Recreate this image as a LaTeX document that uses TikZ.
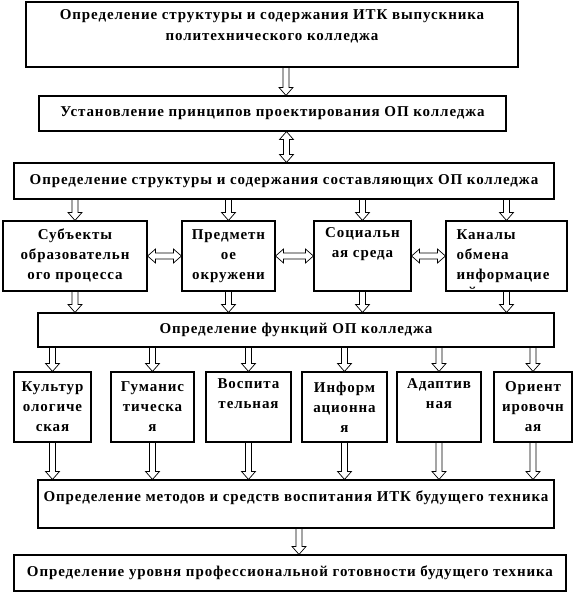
\documentclass[tikz,border=0pt]{standalone}
\usepackage{fontspec}
\setmainfont{Liberation Serif}[LetterSpace=6]
\usetikzlibrary{calc, positioning}

\begin{document}
\begin{tikzpicture}[
    x=1pt, y=-1pt,
    box/.style={
        draw, line width=1.1pt, inner sep=0pt, align=center,
        font=\fontsize{15}{20}\selectfont\bfseries
    },
    cell/.style={box, minimum width=#1, minimum height=70pt},
    arr/.style={draw, line width=.7pt, to path={
        let \p1=(\tikztostart), \p2=(\tikztotarget),
            \p3=($(\p2)!8pt!(\p1)$) in
        ($(\p1)!3pt!90:(\p2)$) -- ($(\p3)!3pt!90:(\p2)$)
        -- ($(\p3)!7pt!90:(\p2)$) -- (\p2)
        -- ($(\p3)!7pt!-90:(\p2)$) -- ($(\p3)!3pt!-90:(\p2)$)
        -- ($(\p1)!3pt!-90:(\p2)$) -- cycle}},
    darr/.style={draw, line width=.7pt, to path={
        let \p1=(\tikztostart), \p2=(\tikztotarget),
            \p3=($(\p2)!8pt!(\p1)$), \p4=($(\p1)!8pt!(\p2)$) in
        (\p1) -- ($(\p4)!7pt!90:(\p2)$) -- ($(\p4)!3pt!90:(\p2)$)
        -- ($(\p3)!3pt!90:(\p2)$) -- ($(\p3)!7pt!90:(\p2)$)
        -- (\p2)
        -- ($(\p3)!7pt!-90:(\p2)$) -- ($(\p3)!3pt!-90:(\p2)$)
        -- ($(\p4)!3pt!-90:(\p2)$) -- ($(\p4)!7pt!-90:(\p2)$) -- cycle}},
]
\useasboundingbox (0,0) rectangle (582,594);

% top of the scheme
\node[box, minimum width=492pt, minimum height=65pt] (top) at (272,34.5)
    {Определение структуры и содержания ИТК выпускника\\[1pt]политехнического колледжа\\[-8pt]\strut};
\node[box, minimum width=467pt, minimum height=35pt] (princ) at (272.5,113.5)
    {Установление принципов проектирования ОП колледжа};
\node[box, minimum width=540pt, minimum height=36pt] (comp) at (284,181)
    {Определение структуры и содержания составляющих ОП колледжа};

% components of the educational space
\node[cell=144pt] (subj) at (75,256) {Субъекты\\образовательн\\ого процесса};
\node[cell=93pt] (envir) at (228.5,256) {Предметн\\ое\\окружени};
\node[cell=97pt] (social) at (362.5,256) {Социальн\\ая среда\\\strut};
\node[cell=121pt, text width=100pt, align=left,
      path picture={\node[anchor=base west, inner sep=0pt,
          font=\fontsize{15}{20}\selectfont\bfseries]
          at ([shift={(11pt,-6pt)}]path picture bounding box.south west) {й};}]
    (chan) at (506.5,256) {Каналы\\обмена\\информацие};

\node[box, minimum width=516pt, minimum height=34pt] (func) at (296,330)
    {Определение функций ОП колледжа};

% functions
\node[cell=77pt] (cult) at (52.5,407) {Культур\\ологиче\\ская};
\node[cell=83pt] (hum) at (152.5,407) {Гуманис\\тическа\\я};
\node[cell=85pt] (educ) at (248.5,407) {Воспита\\тельная\\\strut};
\node[cell=85pt] (info) at (344.5,407) {Информ\\ационна\\я};
\node[cell=84pt] (adapt) at (439,407) {Адаптив\\ная\\\strut};
\node[cell=78pt] (orient) at (533,407) {Ориент\\ировочн\\ая};

% bottom of the scheme
\node[box, minimum width=516pt, minimum height=48pt] (meth) at (296,504)
    {Определение методов и средств воспитания ИТК будущего техника\\[-10pt]\strut};
\node[box, minimum width=552pt, minimum height=36pt] (ready) at (290,573)
    {Определение уровня профессиональной готовности будущего техника};

% arrows
\draw[arr] ([xshift=14pt]top.south) to ([xshift=14pt]top.south |- princ.north);
\draw[darr] ([xshift=14pt]princ.south) to ([xshift=14pt]princ.south |- comp.north);
\foreach \b in {subj, envir, social, chan} {
    \draw[arr] (comp.south -| \b) to (\b.north);
    \draw[arr] (\b.south) to (\b.south |- func.north);
}
\draw[darr] (subj.east) to (envir.west);
\draw[darr] (envir.east) to (social.west);
\draw[darr] (social.east) to (chan.west);
\foreach \b in {cult, hum, educ, info, adapt, orient} {
    \draw[arr] (func.south -| \b) to (\b.north);
    \draw[arr] (\b.south) to (\b.south |- meth.north);
}
\draw[arr] ([xshift=3pt]meth.south) to ([xshift=3pt]meth.south |- ready.north);
\end{tikzpicture}
\end{document}
